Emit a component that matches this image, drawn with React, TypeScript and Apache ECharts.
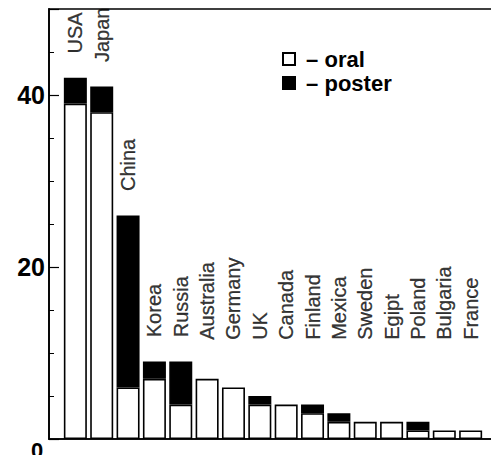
import React, { useEffect, useRef } from "react";
import * as echarts from "echarts";

const countries = [
  "USA", "Japan", "China", "Korea", "Russia", "Australia", "Germany", "UK",
  "Canada", "Finland", "Mexica", "Sweden", "Egipt", "Poland", "Bulgaria", "France",
];
const oral = [39, 38, 6, 7, 4, 7, 6, 4, 4, 3, 2, 2, 2, 1, 1, 1];
const poster = [3, 3, 20, 2, 5, 0, 0, 1, 0, 1, 1, 0, 0, 1, 0, 0];
const yLabels = [20, 40];

const FONT = "'Liberation Sans', Arial, Helvetica, sans-serif";

export default function App() {
  const ref = useRef<HTMLDivElement>(null);
  useEffect(() => {
    if (!ref.current) return;
    const chart = echarts.init(ref.current, null, { renderer: "svg" });
    const cats = ["", ...countries, ""];
    const pad = (arr: (number | null)[]) => [null, ...arr, null];
    const totals = oral.map((v, i) => v + poster[i]);
    const labelData = countries.map((c, i) => [c, Math.max(totals[i] + 2.6, 11.3)]);

    const legendBase = {
      orient: "vertical",
      left: 277,
      itemWidth: 12,
      itemHeight: 12,
      icon: "rect",
      formatter: (n: string) => " \u2013 " + n,
      textStyle: {
        fontFamily: FONT, fontSize: 22, fontWeight: "bold", color: "#000",
        lineHeight: 22,
      },
    };

    chart.setOption({
      animation: false,
      backgroundColor: "#fff",
      textStyle: { fontFamily: FONT, color: "#000" },
      grid: {
        left: 49, right: 2, top: 9, bottom: 24,
        show: true, borderColor: "#000", borderWidth: 1.3,
      },
      legend: [
        { ...legendBase, top: 43, data: ["oral"] },
        { ...legendBase, top: 67, data: ["poster"] },
      ],
      xAxis: {
        type: "category",
        boundaryGap: false,
        data: cats,
        axisLine: { show: true, lineStyle: { color: "#000", width: 1.5 } },
        axisTick: { show: false },
        axisLabel: { show: false },
        splitLine: { show: false },
      },
      yAxis: [
        {
          type: "value",
          min: 0,
          max: 50,
          interval: 5,
          axisLine: { show: true, lineStyle: { color: "#000", width: 1.8 } },
          axisTick: { show: true, inside: true, length: 5, lineStyle: { color: "#000", width: 1 } },
          axisLabel: {
            margin: 4,
            fontFamily: FONT,
            fontSize: 25,
            fontWeight: "bold",
            color: "#000",
            formatter: (v: number) => (yLabels.includes(v) ? String(v) : ""),
          },
          splitLine: { show: false },
        },
        {
          type: "value",
          position: "left",
          min: 0,
          max: 50,
          interval: 20,
          axisLine: { show: false },
          axisTick: { show: true, inside: true, length: 10, lineStyle: { color: "#000", width: 1.2 } },
          axisLabel: { show: false },
          splitLine: { show: false },
        },
      ],
      graphic: [
        {
          type: "text",
          left: 31,
          top: 439,
          style: { text: "0", fontFamily: FONT, fontSize: 22, fontWeight: "bold", fill: "#000" },
        },
      ],
      series: [
        {
          name: "oral",
          type: "bar",
          stack: "total",
          barWidth: 23,
          data: pad(oral),
          itemStyle: { color: "#fff", borderColor: "#000", borderWidth: 1.6 },
        },
        {
          name: "poster",
          type: "bar",
          stack: "total",
          barWidth: 23,
          data: pad(poster.map((v) => (v === 0 ? null : v))),
          itemStyle: { color: "#000", borderColor: "#000", borderWidth: 1.6 },
        },
        {
          name: "labels",
          type: "scatter",
          symbolSize: 0,
          data: labelData,
          silent: true,
          label: {
            show: true,
            position: "inside",
            rotate: 90,
            align: "left",
            verticalAlign: "middle",
            offset: [2, 0],
            fontFamily: FONT,
            fontSize: 20,
            color: "#000",
            textBorderColor: "#000",
            textBorderWidth: 0.3,
            formatter: (p: any) => countries[p.dataIndex],
          },
        },
      ],
    });
    return () => chart.dispose();
  }, []);
  return <div ref={ref} style={{ width: 499, height: 463, margin: -8 }} />;
}
